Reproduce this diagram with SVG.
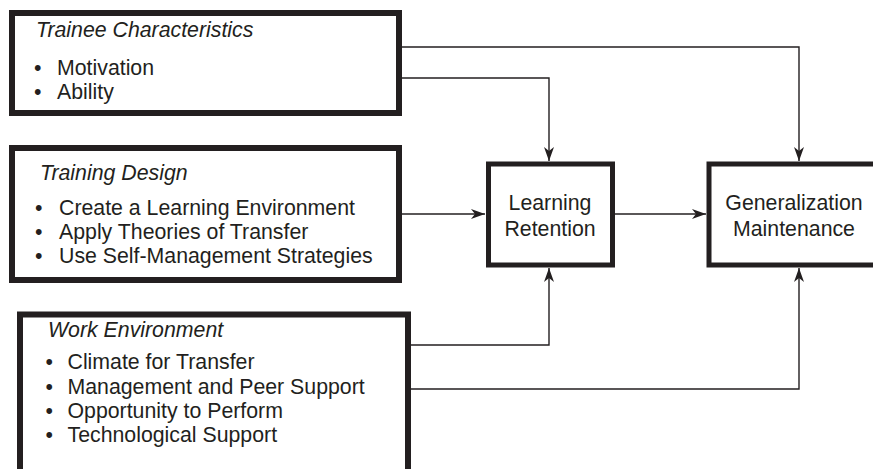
<svg xmlns="http://www.w3.org/2000/svg" width="873" height="469" viewBox="0 0 873 469">
<style>
  .box{fill:#fff;stroke:#231f20;stroke-width:6}
  .cbox{fill:#fff;stroke:#231f20;stroke-width:5}
  text{font-family:"Liberation Sans",Arial,sans-serif;font-size:21.3px;fill:#231f20}
  .ttl{font-style:italic}
  .mid{text-anchor:middle}
  .con{fill:none;stroke:#231f20;stroke-width:1.4}
</style>
<defs>
  <marker id="arr" markerUnits="userSpaceOnUse" markerWidth="14" markerHeight="10" viewBox="0 0 14 10" refX="14" refY="5" orient="auto">
    <path d="M0,0 L14,5 L0,10 L4,5 z" fill="#231f20"/>
  </marker>
</defs>
<rect width="873" height="469" fill="#fff"/>
<g id="connectors">
  <path class="con" d="M401,47 H799 V161" marker-end="url(#arr)"/>
  <path class="con" d="M401,78 H549 V161" marker-end="url(#arr)"/>
  <path class="con" d="M401,214 H485" marker-end="url(#arr)"/>
  <path class="con" d="M615,214 H706" marker-end="url(#arr)"/>
  <path class="con" d="M410,345 H549 V268" marker-end="url(#arr)"/>
  <path class="con" d="M410,389 H799 V268" marker-end="url(#arr)"/>
</g>
<g id="trainee">
  <rect class="box" x="12" y="13" width="387" height="100"/>
  <text class="ttl" x="36" y="37">Trainee Characteristics</text>
  <text x="34" y="75">•</text><text x="57" y="75">Motivation</text>
  <text x="34" y="99">•</text><text x="57" y="99">Ability</text>
</g>
<g id="training">
  <rect class="box" x="12" y="148" width="387" height="132"/>
  <text class="ttl" x="40" y="180">Training Design</text>
  <text x="35" y="214.5">•</text><text x="59" y="214.5">Create a Learning Environment</text>
  <text x="35" y="238.5">•</text><text x="59" y="238.5">Apply Theories of Transfer</text>
  <text x="35" y="263">•</text><text x="59" y="263">Use Self-Management Strategies</text>
</g>
<g id="work">
  <rect class="box" x="20" y="314.5" width="388" height="200"/>
  <text class="ttl" x="48" y="337">Work Environment</text>
  <text x="45.5" y="369">•</text><text x="67.5" y="369">Climate for Transfer</text>
  <text x="45.5" y="393.5">•</text><text x="67.5" y="393.5">Management and Peer Support</text>
  <text x="45.5" y="418">•</text><text x="67.5" y="418">Opportunity to Perform</text>
  <text x="45.5" y="442">•</text><text x="67.5" y="442">Technological Support</text>
</g>
<g id="learning">
  <rect class="cbox" x="488.5" y="164" width="124" height="101"/>
  <text class="mid" x="550" y="209.5">Learning</text>
  <text class="mid" x="550" y="235.5">Retention</text>
</g>
<g id="generalization">
  <rect class="cbox" x="709" y="164" width="200" height="101"/>
  <text class="mid" x="794" y="209.5">Generalization</text>
  <text class="mid" x="794" y="235.5">Maintenance</text>
</g>
</svg>
